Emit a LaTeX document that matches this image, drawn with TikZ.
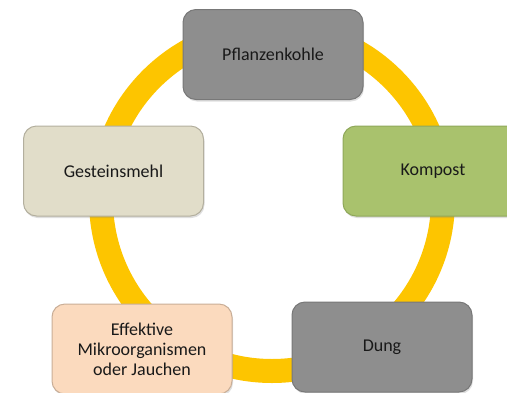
\documentclass[tikz,border=0pt]{standalone}
\usepackage{fontspec}
\setmainfont{Carlito}
\usetikzlibrary{shadows}
\definecolor{ringgold}{HTML}{FDC500}
\definecolor{boxgray}{HTML}{8E8E8E}
\definecolor{boxgraydk}{HTML}{787878}
\definecolor{stone}{HTML}{E1DDC9}
\definecolor{stonedk}{HTML}{B3AF9E}
\definecolor{green}{HTML}{A9C26D}
\definecolor{greendk}{HTML}{8FA85A}
\definecolor{peach}{HTML}{FBDABE}
\definecolor{peachdk}{HTML}{C9AE97}
\tikzset{
  box/.style={rounded corners=13pt, minimum width=180pt, minimum height=90pt,
    line width=1pt, align=center, font=\fontsize{18}{20}\selectfont, text=black!90,
    drop shadow={opacity=0.25, shadow xshift=1pt, shadow yshift=-2pt}},
  ring/.style={draw=ringgold, line width=24pt}
}
\begin{document}
\begin{tikzpicture}[x=1pt,y=-1pt]
\useasboundingbox (0,0) rectangle (507,392);
\coordinate (c) at (272,200);
\draw[ring] (c) circle (171);
\node[box, fill=boxgray, draw=boxgraydk] (pk) at (273,54.5) {Pflanzenkohle};
\node[box, fill=stone, draw=stonedk] (gm) at (113.5,171) {Gesteinsmehl};
\node[box, fill=green, draw=greendk] (ko) at (433,171) {Kompost};
\node[box, fill=boxgray, draw=boxgraydk] (du) at (382,347) {Dung};
\node[box, fill=peach, draw=peachdk] (em) at (142,349) {Effektive\\Mikroorganismen\\oder Jauchen};
\end{tikzpicture}
\end{document}
